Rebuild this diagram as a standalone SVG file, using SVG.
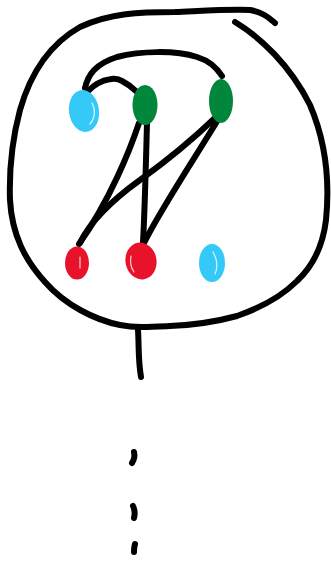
<svg xmlns="http://www.w3.org/2000/svg" width="331" height="565" viewBox="0 0 331 565">
<style>
.s{fill:none;stroke:#000;stroke-width:6;stroke-linecap:round;stroke-linejoin:round}
.b{fill:#35c9f7}
.g{fill:#00873c}
.r{fill:#e8132b}
.hl{fill:none;stroke:#fff;stroke-width:1.2;stroke-linecap:round;opacity:.8}
</style>
<rect width="331" height="565" fill="#fff"/>
<g id="outline">
<path class="s" d="M235,22 C260,37 290,65 310,105 C325,140 330,180 326,220 C323,245 313,266 297,281 C280,298 260,308 237,316 C215,322 195,325 170,326 C150,327 135,328 120,325 C95,320 65,305 45,282 C25,260 12,235 10,200 C9,170 12,140 20,110 C30,75 48,45 80,27 C110,13 140,12 175,12 C200,11 230,9 250,10 C262,12 268,17 275,23"/>
<path class="s" d="M138,330 C139,345 138,360 141,377"/>
<path class="s" d="M134,452 C135,456 134,460 132,463"/>
<path class="s" d="M133,506 C135,510 135,514 134,518"/>
<path class="s" d="M135,544 C134,547 134,550 134,552"/>
</g>
<g id="connectors">
<path class="s" d="M85,88 C88,75 95,64 117,57 C140,51 175,50 197,57 C210,61 217,68 222,76"/>
<path class="s" d="M85,95 C90,88 95,84 103,81 C110,79 116,77 122,81 C128,84 133,88 137,92"/>
<path class="s" d="M139,123 C130,150 110,200 79,244"/>
<path class="s" d="M147,123 C146,160 145,205 143,243"/>
<path class="s" d="M216,117 C190,142 165,162 140,180 C115,198 92,218 80,243"/>
<path class="s" d="M219,118 C200,150 160,210 144,243"/>
</g>
<g id="n-blue-left"><ellipse class="b" cx="84" cy="111" rx="15" ry="21" transform="rotate(-8 84 111)"/><path class="hl" d="M92,103 C96,110 95,118 90,124"/></g>
<g id="n-green-mid"><ellipse class="g" cx="145" cy="105" rx="12.5" ry="20"/></g>
<g id="n-green-right"><ellipse class="g" cx="221" cy="101" rx="12" ry="22"/></g>
<g id="n-red-left"><ellipse class="r" cx="77" cy="263" rx="12" ry="16.5"/><path class="hl" d="M80,257 L80,268"/></g>
<g id="n-red-mid"><ellipse class="r" cx="141" cy="261" rx="15.5" ry="18.5" transform="rotate(-10 141 261)"/><path class="hl" d="M131,256 C130,262 131,268 134,272"/></g>
<g id="n-blue-right"><ellipse class="b" cx="212" cy="263" rx="13" ry="19"/><path class="hl" d="M213,252 C217,259 218,267 215,274"/></g>
</svg>
